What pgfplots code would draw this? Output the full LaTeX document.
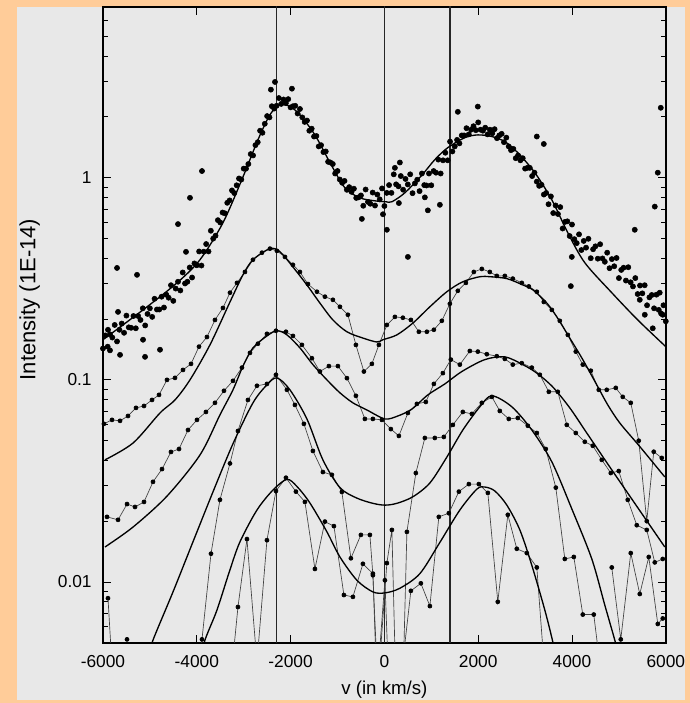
\documentclass[border=0pt]{standalone}
\usepackage{fontspec}
\setmainfont{Liberation Sans}
\usepackage{pgfplots}
\pgfplotsset{compat=1.18}
\definecolor{peach}{HTML}{FFCC99}
\definecolor{panel}{HTML}{E8E8E8}
\begin{document}
\begin{tikzpicture}[x=1pt,y=1pt]
\fill[peach] (-77.25,-45) rectangle (440.25,482.25);
\fill[panel] (-64.5,-42.75) rectangle (436.5,477);
\begin{axis}[
  at={(0,0)}, anchor=south west,
  scale only axis, width=422.25pt, height=477pt,
  xmin=-6000, xmax=6000, ymin=0.005, ymax=7, ymode=log,
  xtick={-6000,-4000,-2000,0,2000,4000,6000},
  xticklabels={-6000,-4000,-2000,0,2000,4000,6000},
  ytick={0.01,0.1,1}, yticklabels={0.01,0.1,1},
  minor ytick={0.005,0.006,0.007,0.008,0.009,0.02,0.03,0.04,0.05,0.06,0.07,0.08,0.09,0.2,0.3,0.4,0.5,0.6,0.7,0.8,0.9,2,3,4,5,6},
  axis line style={line width=1.3pt},
  tick style={black, line width=0.7pt},
  major tick length=6pt, minor tick length=3.5pt,
  tick align=inside,
  xticklabel style={font=\fontsize{13}{15}\selectfont, yshift=-6pt},
  yticklabel style={font=\fontsize{13}{15}\selectfont, xshift=-5pt},
  xlabel={v (in km/s)}, ylabel={Intensity (1E-14)},
  xlabel style={font=\fontsize{14}{16}\selectfont, at={(axis description cs:0.5,-0.074)}, anchor=center},
  ylabel style={font=\fontsize{16.5}{19}\selectfont, at={(axis description cs:-0.13,0.54)}, anchor=center, rotate=0},
  unbounded coords=jump,
  clip=true,
]
% vertical reference lines
\addplot[black!85, line width=1.2pt] coordinates {(-2300,0.004) (-2300,8)};
\addplot[black!85, line width=1.2pt] coordinates {(0,0.004) (0,8)};
\addplot[black!85, line width=1.2pt] coordinates {(1400,0.004) (1400,8)};

% Series A: scattered data
\addplot[only marks, mark=*, mark size=1.95pt, black] table {
x y
-6000 0.143
-5950 0.166
-5900 0.146
-5850 0.168
-5800 0.162
-5750 0.187
-5700 0.155
-5650 0.177
-5600 0.190
-5550 0.171
-5500 0.208
-5450 0.182
-5400 0.181
-5350 0.207
-5300 0.180
-5250 0.207
-5200 0.198
-5150 0.226
-5100 0.186
-5050 0.212
-5000 0.226
-4950 0.205
-4900 0.252
-4850 0.223
-4800 0.223
-4750 0.258
-4700 0.228
-4650 0.264
-4600 0.255
-4550 0.294
-4500 0.246
-4450 0.283
-4400 0.306
-4350 0.277
-4300 0.340
-4250 0.300
-4200 0.306
-4150 0.360
-4100 0.321
-4050 0.377
-4000 0.369
-3950 0.432
-3900 0.368
-3850 0.431
-3800 0.470
-3750 0.432
-3700 0.547
-3650 0.500
-3600 0.517
-3550 0.617
-3500 0.601
-3450 0.673
-3400 0.667
-3350 0.752
-3300 0.773
-3250 0.866
-3200 0.840
-3150 0.918
-3100 0.992
-3050 0.980
-3000 1.11
-2950 1.11
-2900 1.17
-2850 1.31
-2800 1.29
-2750 1.45
-2700 1.50
-2650 1.71
-2600 1.67
-2550 1.85
-2500 2.02
-2450 1.99
-2400 2.26
-2350 2.20
-2300 2.27
-2250 2.48
-2200 2.32
-2150 2.44
-2100 2.34
-2050 2.45
-2000 2.23
-1950 2.26
-1900 2.27
-1850 2.08
-1800 2.19
-1750 1.99
-1700 1.89
-1650 1.92
-1600 1.71
-1550 1.75
-1500 1.60
-1450 1.61
-1400 1.43
-1350 1.45
-1300 1.34
-1250 1.35
-1200 1.20
-1150 1.19
-1100 1.17
-1050 1.05
-1000 1.08
-950 0.98
-900 0.945
-850 0.965
-800 0.872
-750 0.899
-700 0.852
-650 0.883
-600 0.795
-550 0.800
-500 0.818
-450 0.727
-400 0.875
-350 0.760
-300 0.744
-250 0.845
-200 0.729
-150 0.826
-100 0.782
-50 0.886
0 0.725
50 0.842
100 0.920
150 0.842
200 1.04
250 0.928
300 0.907
350 1.02
400 0.873
450 0.987
500 0.927
550 1.04
600 0.839
650 0.938
700 0.978
750 0.859
800 1.05
850 0.920
900 0.916
950 1.05
1000 0.918
1050 1.08
1100 1.06
1150 1.23
1200 1.05
1250 1.22
1300 1.33
1350 1.22
1400 1.51
1450 1.35
1500 1.43
1550 1.54
1600 1.48
1650 1.62
1700 1.62
1750 1.76
1800 1.64
1850 1.73
1900 1.80
1950 1.72
2000 1.88
2050 1.73
2100 1.71
2150 1.77
2200 1.64
2250 1.73
2300 1.66
2350 1.74
2400 1.57
2450 1.62
2500 1.65
2550 1.50
2600 1.58
2650 1.43
2700 1.37
2750 1.39
2800 1.25
2850 1.29
2900 1.22
2950 1.25
3000 1.11
3050 1.12
3100 1.12
3150 1.02
3200 1.06
3250 0.957
3300 0.912
3350 0.923
3400 0.826
3450 0.841
3500 0.740
3550 0.809
3600 0.669
3650 0.730
3700 0.662
3750 0.716
3800 0.561
3850 0.605
3900 0.609
3950 0.515
4000 0.587
4050 0.497
4100 0.475
4150 0.525
4200 0.439
4250 0.487
4300 0.451
4350 0.499
4400 0.400
4450 0.443
4500 0.458
4550 0.398
4600 0.469
4650 0.399
4700 0.384
4750 0.426
4800 0.357
4850 0.396
4900 0.365
4950 0.401
5000 0.319
5050 0.350
5100 0.359
5150 0.310
5200 0.361
5250 0.304
5300 0.290
5350 0.319
5400 0.266
5450 0.293
5500 0.268
5550 0.294
5600 0.234
5650 0.256
5700 0.263
5750 0.226
5800 0.264
5850 0.222
5900 0.213
5950 0.234
6000 0.195
-3889 1.08
-4145 0.796
-4400 0.590
-4230 0.430
-5700 0.358
-5274 0.331
-1971 2.76
-2333 2.98
-2420 2.73
1566 2.12
1992 2.25
3250 1.60
3399 1.47
5893 2.22
5829 1.06
5765 0.72
5338 0.553
3996 0.406
3975 0.291
501 0.406
5552 0.210
-480 0.626
53 0.553
-30 0.66
309 0.75
927 0.69
863 0.80
1183 0.735
330 1.19
224 1.12
5870 0.27
5935 0.21
5722 0.18
5445 0.249
-5146 0.158
-5103 0.130
-5636 0.133
-5850 0.140
-5893 0.177
-5679 0.217
-4784 0.141
};

% Fit A
\addplot[black, line width=1pt, smooth, tension=0.5] coordinates {
(-6000,0.158) (-5146,0.222) (-4422,0.302) (-3932,0.393) (-3442,0.599) (-3015,1.01)
(-2696,1.54) (-2440,2.05) (-2227,2.30) (-2014,2.25) (-1801,2.05) (-1481,1.63)
(-1161,1.19) (-842,0.892) (-522,0.796) (-202,0.769) (32,0.761) (160,0.761)
(437,0.843) (799,1.03) (1076,1.23) (1353,1.41) (1716,1.58) (1992,1.63)
(2291,1.60) (2568,1.51) (2845,1.33) (3207,1.06) (3570,0.778) (3911,0.534)
(4273,0.380) (4848,0.270) (5402,0.198) (6000,0.146)};

% Series B data
\addplot[black!75, line width=0.5pt, mark=*, mark size=1.5pt, mark options={fill=black, draw=black}] coordinates {
(-5980,0.0606) (-5807,0.0634) (-5636,0.0627) (-5466,0.0663) (-5295,0.0727) (-5125,0.0743)
(-4954,0.0796) (-4805,0.0843) (-4635,0.100) (-4464,0.1023) (-4294,0.112) (-4123,0.120)
(-3953,0.146) (-3783,0.163) (-3612,0.198) (-3442,0.227) (-3292,0.270) (-3143,0.302)
(-2973,0.342) (-2802,0.393) (-2610,0.426) (-2440,0.446) (-2291,0.435) (-2120,0.406)
(-1950,0.371) (-1801,0.342) (-1630,0.298) (-1438,0.273) (-1268,0.258) (-1098,0.249)
(-948,0.230) (-778,0.210) (-607,0.149) (-437,0.110) (-267,0.120) (-117,0.149)
(53,0.187) (224,0.205) (394,0.203) (565,0.198) (735,0.173) (906,0.173)
(1055,0.177) (1225,0.196) (1396,0.238) (1566,0.276) (1737,0.302) (1907,0.342)
(2078,0.354) (2248,0.342) (2397,0.327) (2568,0.327) (2738,0.317) (2930,0.302)
(3079,0.290) (3250,0.273) (3399,0.243) (3570,0.222) (3740,0.196) (3911,0.167)
(4081,0.138) (4230,0.119) (4401,0.111) (4571,0.0893) (4741,0.0893) (4933,0.0913)
(5082,0.0824) (5253,0.0770) (5423,0.0500) (5594,0.0200) (5743,0.0441) (5914,0.0411)};

% Fit B
\addplot[black, line width=1pt, smooth, tension=0.5] coordinates {
(-5957,0.0402) (-5359,0.0487) (-4784,0.0686) (-4464,0.0796) (-4145,0.100) (-3719,0.149)
(-3292,0.243) (-3015,0.331) (-2802,0.393) (-2440,0.446) (-2227,0.431) (-1950,0.362)
(-1652,0.295) (-1375,0.240) (-1098,0.198) (-799,0.173) (-458,0.161) (-160,0.154)
(-32,0.158) (266,0.167) (607,0.191) (970,0.230) (1332,0.273) (1673,0.306)
(2035,0.324) (2248,0.324) (2611,0.317) (2951,0.295) (3165,0.279) (3463,0.240)
(3676,0.205) (3953,0.161) (4230,0.126) (4528,0.0945) (4763,0.0752) (5019,0.0612)
(5445,0.0468) (5978,0.0331)};

% Series C data
\addplot[black!75, line width=0.5pt, mark=*, mark size=1.5pt, mark options={fill=black, draw=black}] coordinates {
(-5914,0.0210) (-5679,0.0203) (-5487,0.0243) (-5317,0.0235) (-5125,0.0249) (-4933,0.0313)
(-4741,0.0362) (-4550,0.0440) (-4379,0.0455) (-4187,0.0565) (-3996,0.0634) (-3804,0.0694)
(-3612,0.0770) (-3420,0.0883) (-3228,0.0989) (-3037,0.115) (-2866,0.136) (-2696,0.151)
(-2504,0.169) (-2312,0.175) (-2099,0.173) (-1950,0.165) (-1758,0.149) (-1545,0.128)
(-1375,0.110) (-1183,0.117) (-991,0.117) (-799,0.102) (-607,0.0834) (-416,0.0641)
(-245,0.0641) (-53,0.0634) (138,0.0571) (309,0.0528) (501,0.0686) (693,0.0761)
(884,0.0778) (1055,0.0955) (1247,0.108) (1417,0.126) (1609,0.119) (1822,0.139)
(1992,0.138) (2184,0.134) (2397,0.131) (2568,0.127) (2738,0.119) (2930,0.121)
(3143,0.115) (3314,0.106) (3506,0.0873) (3697,0.0873) (3889,0.0599) (4081,0.0546)
(4273,0.0494) (4443,0.0472) (4635,0.0402) (4827,0.0346) (4997,0.0354) (5189,0.0255)
(5381,0.0191) (5594,0.0181) (5765,0.0125) (5935,0.0130)};

% Fit C
\addplot[black, line width=1pt, smooth, tension=0.5] coordinates {
(-5957,0.0149) (-5359,0.0187) (-4635,0.0266) (-3932,0.0425) (-3506,0.0671) (-3228,0.0893)
(-3015,0.117) (-2802,0.144) (-2504,0.165) (-2291,0.175) (-2078,0.167) (-1801,0.144)
(-1524,0.119) (-1225,0.100) (-948,0.0863) (-671,0.0770) (-373,0.0710) (11,0.0641)
(288,0.0663) (586,0.0717) (927,0.0843) (1289,0.0955) (1652,0.110) (2142,0.126)
(2568,0.130) (2951,0.119) (3250,0.108) (3591,0.0922) (3953,0.0727) (4315,0.0546)
(4805,0.0371) (5381,0.0237) (5978,0.0149)};

% Series D data
\addplot[black!75, line width=0.5pt, mark=*, mark size=1.5pt, mark options={fill=black, draw=black}] coordinates {
(-5893,0.00831) (-5780,0.003) (-5700,nan) (-5487,0.0052) (-5300,nan)
(-3960,0.0035) (-3889,0.0052) (-3697,0.0138) (-3506,0.0255) (-3292,0.0386) (-3122,0.0559)
(-2909,0.0796) (-2717,0.0935) (-2504,0.0955) (-2312,0.106) (-2078,0.0893) (-1907,0.0752)
(-1716,0.0606) (-1524,0.0445) (-1311,0.0350) (-1119,0.0339) (-906,0.0279) (-714,0.0131)
(-501,0.0171) (-309,0.0171) (-245,0.0108) (-139,0.003) (53,0.0124) (160,0.0181)
(245,0.003) (394,0.003) (480,0.0177) (671,0.0346) (863,0.0516) (1076,0.0516)
(1268,0.0522) (1460,0.0599) (1673,0.0694) (1865,0.0679) (2078,0.0770) (2291,0.0824)
(2461,0.0702) (2653,0.0641) (2845,0.0648) (3058,0.0593) (3250,0.0546) (3441,0.0455)
(3655,0.0293) (3847,0.0130) (4039,0.0133) (4230,0.0069) (4464,0.0069) (4656,0.003)};

% Fit D
\addplot[black, line width=1pt, smooth, tension=0.5] coordinates {
(-5100,0.0039) (-4933,0.00516) (-4507,0.00893) (-4081,0.0158) (-3655,0.0279) (-3228,0.0483)
(-2802,0.0770) (-2504,0.0945) (-2291,0.1023) (-2014,0.0893) (-1652,0.0641) (-1311,0.0402)
(-948,0.0293) (-586,0.0260) (-245,0.0245) (11,0.0240) (266,0.0245) (607,0.0264)
(970,0.0309) (1332,0.0415) (1673,0.0565) (2035,0.0736) (2291,0.0834) (2717,0.0736)
(3143,0.0565) (3570,0.0393) (3996,0.0230) (4422,0.0130) (4699,0.00769) (4912,0.00516)
(5019,0.0041)};

% Series E data
\addplot[black!75, line width=0.5pt, mark=*, mark size=1.5pt, mark options={fill=black, draw=black}] coordinates {
(-3290,0.003) (-3122,0.00752) (-2930,0.0163) (-2717,0.004) (-2504,0.0161) (-2312,0.0282)
(-2099,0.0328) (-1886,0.0280) (-1694,0.0249) (-1481,0.0116) (-1268,0.0199) (-1076,0.0189)
(-863,0.00862) (-671,0.00844) (-458,0.0123) (-245,0.0110) (-160,0.003) (11,0.0102)
(96,0.003) (330,0.003) (565,0.00904) (778,0.00985) (970,0.00760) (1161,0.0210)
(1374,0.0219) (1588,0.0280) (1801,0.0305) (2014,0.0305) (2206,0.0276) (2418,0.00798)
(2632,0.0215) (2823,0.0146) (3037,0.0139) (3250,0.0118) (3441,0.003) (4000,nan)
(4848,0.0118) (5040,0.0052) (5253,0.0139) (5445,0.00872) (5637,0.0133) (5829,0.00620)
(5935,0.00660)};

% Fit E
\addplot[black, line width=1pt, smooth, tension=0.5] coordinates {
(-3932,0.0040) (-3825,0.00516) (-3569,0.00727) (-3292,0.0115) (-3079,0.0158) (-2717,0.0227)
(-2376,0.0285) (-2078,0.0322) (-1865,0.0297) (-1588,0.0246) (-1225,0.0177) (-948,0.0133)
(-586,0.0102) (-245,0.00893) (11,0.00883) (330,0.00931) (757,0.0110) (1183,0.0157)
(1609,0.0227) (1971,0.0288) (2142,0.0295) (2355,0.0282) (2611,0.0240) (2888,0.0181)
(3143,0.0121) (3420,0.00727) (3591,0.00505) (3676,0.0040)};
\end{axis}
\end{tikzpicture}
\end{document}
